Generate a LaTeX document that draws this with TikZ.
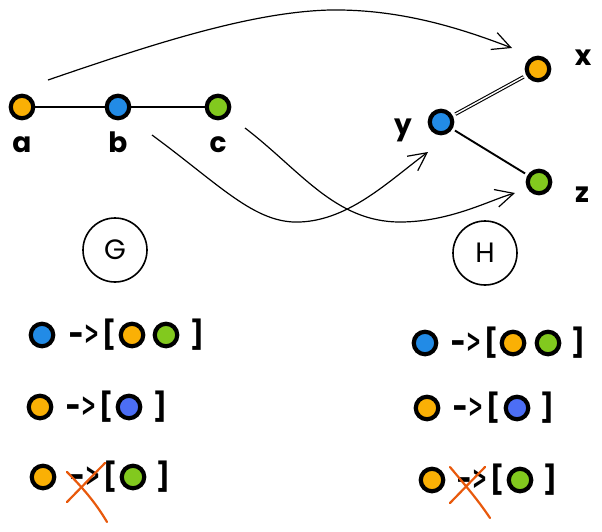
\documentclass[tikz,border=0pt]{standalone}
\usepackage{fontspec}
\usepackage{graphicx}
\setmainfont{Poppins}
\newfontfamily\symfont{DejaVu Sans}
\usetikzlibrary{arrows.meta}
\definecolor{cOr}{HTML}{FAB005}
\definecolor{cBl}{HTML}{228BE6}
\definecolor{cGr}{HTML}{82C91E}
\definecolor{cVi}{HTML}{4C6EF5}
\definecolor{cRd}{HTML}{E8590C}
\newcommand{\maparrow}{\scalebox{1.25}[1.1]{-}\kern0.5pt\scalebox{0.6}[1.1]{>}}
\begin{document}
\begin{tikzpicture}[x=1pt,y=-1pt,
  vtx/.style={circle, draw=black, line width=4.2pt, minimum size=22.5pt, inner sep=0pt},
  lbl/.style={font=\fontsize{28}{28}\selectfont\bfseries, inner sep=0pt},
  sym/.style={font=\fontsize{28}{28}\selectfont\bfseries, inner sep=0pt},
  arw/.style={font=\symfont\bfseries\fontsize{30}{30}\selectfont, inner sep=0pt},
  edge/.style={line width=1.9pt},
  flow/.style={line width=1.2pt, -{Straight Barb[length=18pt,width=18pt,line width=1.2pt]}},
  gname/.style={circle, draw, line width=1.6pt, minimum size=64pt, inner sep=0pt, font=\fontsize{28}{28}\selectfont},
  cross/.style={draw=cRd, line width=2.2pt, line cap=round},
]
\useasboundingbox (0,0) rectangle (602,531);
% graph G
\node[vtx, fill=cOr] (na) at (22,107) {};
\node[vtx, fill=cBl] (nb) at (118,107) {};
\node[vtx, fill=cGr] (nc) at (218,107) {};
\node[lbl] (la) at (22,145) {a};
\node[lbl] (lb) at (118,142) {b};
\node[lbl] (lc) at (218,145) {c};
\draw[edge] (na) -- (nb);
\draw[edge] (nb) -- (nc);
% graph H
\node[vtx, fill=cOr] (nx) at (538,69) {};
\node[vtx, fill=cBl] (ny) at (441,122) {};
\node[vtx, fill=cGr] (nz) at (539,182) {};
\node[lbl] (lx) at (583,58) {x};
\node[lbl] (ly) at (403,130) {y};
\node[lbl] (lz) at (582,195) {z};
\draw[line width=1.1pt, double, double distance=1.4pt, shorten <=3pt, shorten >=3pt] (ny) -- (nx);
\draw[edge, shorten <=3pt, shorten >=3pt] (ny) -- (nz);
% mapping arrows
\coordinate (s1) at (48,80);
\coordinate (e1) at (512,48);
\coordinate (m1) at (330,10);
\coordinate (s2) at (152,135);
\coordinate (m2) at (300,222);
\coordinate (e2) at (428,152);
\coordinate (s3) at (245,128);
\coordinate (m3) at (400,222);
\coordinate (e3) at (515,193);
\draw[flow] (s1) .. controls (150,45) and (250,12) .. (m1) .. controls (400,9) and (460,28) .. (e1);
\draw[flow] (s2) .. controls (220,185) and (255,224) .. (m2) .. controls (350,220) and (390,180) .. (e2);
\draw[flow] (s3) .. controls (300,170) and (335,222) .. (m3) .. controls (450,222) and (490,200) .. (e3);
% names
\node[gname] (gG) at (115,250) {G};
\node[gname] (gH) at (485,253) {H};
% lists G
\node[vtx, fill=cBl] (g1a) at (42,335) {};
\node[arw] (g1r) at (84,335) {\maparrow};
\node[sym] (g1l) at (109,335) {[};
\node[vtx, fill=cOr] (g1b) at (132,335) {};
\node[vtx, fill=cGr] (g1c) at (166,335) {};
\node[sym] (g1e) at (197,335) {]};
\node[vtx, fill=cOr] (g2a) at (40,407) {};
\node[arw] (g2r) at (81,407) {\maparrow};
\node[sym] (g2l) at (106,407) {[};
\node[vtx, fill=cVi] (g2b) at (129,407) {};
\node[sym] (g2e) at (160,407) {]};
\node[vtx, fill=cOr] (g3a) at (43,477) {};
\node[arw] (g3r) at (85,477) {\maparrow};
\node[sym] (g3l) at (110,477) {[};
\node[vtx, fill=cGr] (g3b) at (133,477) {};
\node[sym] (g3e) at (163,477) {]};
\coordinate (gx1) at (67,502);
\coordinate (gx2) at (105,463);
\coordinate (gx3) at (67,472);
\coordinate (gx4) at (107,522);
\draw[cross] (gx1) -- (gx2);
\draw[cross] (gx3) .. controls (85,490) and (97,505) .. (gx4);
% lists H
\node[vtx, fill=cBl] (h1a) at (425,343) {};
\node[arw] (h1r) at (466,343) {\maparrow};
\node[sym] (h1l) at (491,343) {[};
\node[vtx, fill=cOr] (h1b) at (513,343) {};
\node[vtx, fill=cGr] (h1c) at (548,343) {};
\node[sym] (h1e) at (578,343) {]};
\node[vtx, fill=cOr] (h2a) at (427,408) {};
\node[arw] (h2r) at (468,408) {\maparrow};
\node[sym] (h2l) at (493,408) {[};
\node[vtx, fill=cVi] (h2b) at (517,408) {};
\node[sym] (h2e) at (547,408) {]};
\node[vtx, fill=cOr] (h3a) at (432,480) {};
\node[arw] (h3r) at (472,480) {\maparrow};
\node[sym] (h3l) at (497,480) {[};
\node[vtx, fill=cGr] (h3b) at (520,480) {};
\node[sym] (h3e) at (550,480) {]};
\coordinate (hx1) at (450,503);
\coordinate (hx2) at (485,467);
\coordinate (hx3) at (450,467);
\coordinate (hx4) at (490,518);
\draw[cross] (hx1) -- (hx2);
\draw[cross] (hx3) .. controls (465,485) and (478,500) .. (hx4);
\end{tikzpicture}
\end{document}
